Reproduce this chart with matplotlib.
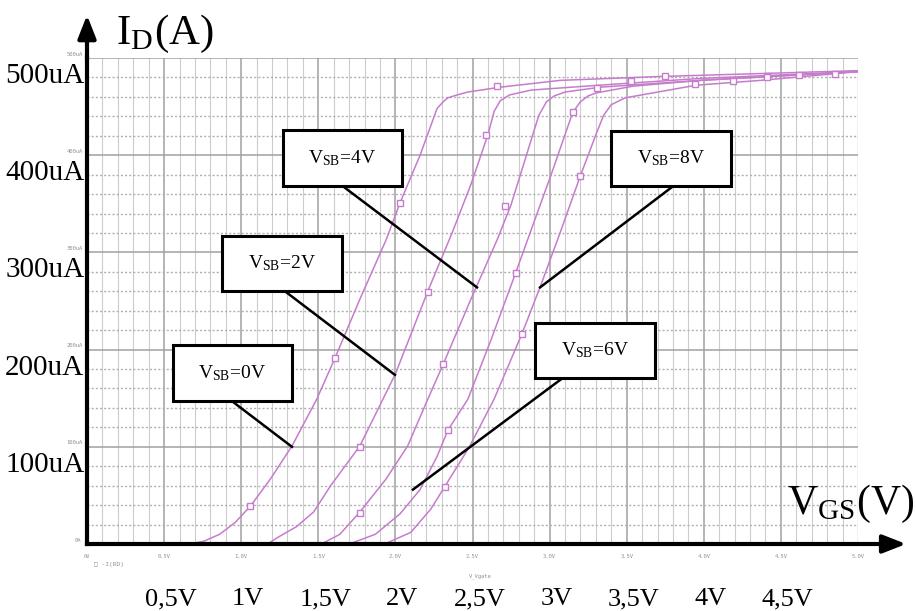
import matplotlib
matplotlib.use("Agg")
import matplotlib.pyplot as plt
from matplotlib.patches import Rectangle
import numpy as np

# Kennlinien I_D(V_GS) fuer verschiedene V_SB (Strom in uA)
vgs_0 = [0.0, 0.67, 0.76, 0.86, 0.96, 1.06, 1.19, 1.33, 1.49, 1.61, 1.77, 1.94, 2.03, 2.16, 2.27, 2.31, 2.34, 2.40, 2.47, 2.68, 3.07, 3.72, 4.37, 5.0]
id_0 = [0, 0, 3, 10, 22, 39, 67, 101, 149, 192, 252, 313, 351, 400, 448, 455, 459, 462, 465, 470, 477, 481, 484, 487]

vgs_2 = [0.0, 1.17, 1.25, 1.36, 1.47, 1.58, 1.77, 2.00, 2.21, 2.37, 2.49, 2.60, 2.64, 2.68, 2.74, 2.88, 3.32, 3.98, 5.0]
id_2 = [0, 0, 8, 18, 33, 60, 101, 175, 260, 321, 370, 421, 445, 456, 462, 467, 472, 479, 486]

vgs_4 = [0.0, 1.52, 1.64, 1.77, 1.94, 2.08, 2.21, 2.31, 2.49, 2.66, 2.75, 2.84, 2.93, 2.98, 3.03, 3.10, 3.33, 3.98, 5.0]
id_4 = [0, 0, 10, 33, 67, 101, 149, 185, 252, 313, 349, 395, 441, 455, 461, 465, 470, 477, 486]

vgs_6 = [0.0, 1.70, 1.87, 2.03, 2.16, 2.27, 2.34, 2.47, 2.62, 2.78, 2.88, 3.01, 3.15, 3.20, 3.25, 3.30, 3.54, 3.98, 5.0]
id_6 = [0, 0, 10, 31, 56, 90, 117, 149, 210, 279, 323, 380, 444, 455, 461, 464, 471, 477, 486]

vgs_8 = [0.0, 1.93, 2.10, 2.23, 2.32, 2.48, 2.64, 2.82, 2.94, 3.07, 3.20, 3.30, 3.35, 3.40, 3.49, 3.95, 4.37, 5.0]
id_8 = [0, 0, 12, 36, 59, 100, 149, 216, 265, 321, 379, 421, 441, 452, 459, 472, 477, 486]

# Marker der Simulation (PSpice-Symbole)
mk_v_0 = [1.06, 1.61, 2.03, 2.66, 3.75]
mk_i_0 = [39, 191, 351, 471, 481]
mk_v_2 = [1.77, 2.21, 2.59, 3.31, 4.41]
mk_i_2 = [100, 259, 421, 469, 481]
mk_v_4 = [1.77, 2.31, 2.71, 3.53, 4.62]
mk_i_4 = [32, 185, 348, 476, 483]
mk_v_6 = [2.34, 2.78, 3.15, 3.94, 4.85]
mk_i_6 = [117, 279, 444, 473, 484]
mk_v_8 = [2.32, 2.82, 3.20, 4.19, 4.41]
mk_i_8 = [59, 216, 379, 476, 480]

vsb_labels = ["0V", "2V", "4V", "6V", "8V"]

y_ticks = [100, 200, 300, 400, 500]
y_labels = ["100uA", "200uA", "300uA", "400uA", "500uA"]
y_small = ["100uA", "200uA", "300uA", "400uA", "500uA"]
x_ticks = [0.5, 1.0, 1.5, 2.0, 2.5, 3.0, 3.5, 4.0, 4.5]
x_labels = ["0,5V", "1V", "1,5V", "2V", "2,5V", "3V", "3,5V", "4V", "4,5V"]
x_small_ticks = [0, 0.5, 1.0, 1.5, 2.0, 2.5, 3.0, 3.5, 4.0, 4.5, 5.0]
x_small = ["0V", "0.5V", "1.0V", "1.5V", "2.0V", "2.5V", "3.0V", "3.5V", "4.0V", "4.5V", "5.0V"]

plt.rcParams['mathtext.fontset'] = 'stix'
serif = 'Liberation Serif'
curve_col = '#c67ccc'

fig = plt.figure(figsize=(9.16, 6.11), dpi=100)
ax = fig.add_axes([87/916, 67/611, 771/916, 486/611])
ax.set_xlim(0, 5.0)
ax.set_ylim(0, 500)

# Raster wie im PSpice-Plot
for v in np.arange(0.1, 5.0, 0.1):
    major = abs(v * 2 - round(v * 2)) < 1e-6
    ax.axvline(v, color='#a0a0a0' if major else '#cccccc', lw=1.1 if major else 0.8, zorder=1)
for i in np.arange(20, 500.1, 20):
    if int(round(i)) % 100 == 0:
        ax.axhline(i, color='#a0a0a0', lw=1.1, zorder=1)
    else:
        ax.axhline(i, color='#b0b0b0', lw=1.0, ls=(0, (1.5, 1.5)), zorder=1)
ax.axvline(5.0, color='#c0c0c0', lw=1, zorder=1)

curves = [(vgs_0, id_0, mk_v_0, mk_i_0), (vgs_2, id_2, mk_v_2, mk_i_2),
          (vgs_4, id_4, mk_v_4, mk_i_4), (vgs_6, id_6, mk_v_6, mk_i_6),
          (vgs_8, id_8, mk_v_8, mk_i_8)]
for vg, idd, mv, mi in curves:
    ax.plot(vg, idd, color=curve_col, lw=1.1, zorder=3)
    ax.plot(mv, mi, ls='none', marker='s', ms=4, mfc='white', mec=curve_col, mew=1, zorder=4)

for s in ['top', 'right']:
    ax.spines[s].set_visible(False)
for s in ['left', 'bottom']:
    ax.spines[s].set_linewidth(3)
    ax.spines[s].set_color('black')
    ax.spines[s].set_zorder(6)
ax.set_xticks([])
ax.set_yticks([])

# Pfeile der Achsen
ax.annotate('', xy=(0, 547), xytext=(0, 495), xycoords='data',
            arrowprops=dict(arrowstyle='-|>,head_length=1.4,head_width=0.55', color='black', lw=3),
            annotation_clip=False)
ax.annotate('', xy=(5.33, 0), xytext=(5.0, 0), xycoords='data',
            arrowprops=dict(arrowstyle='-|>,head_length=1.4,head_width=0.55', color='black', lw=3),
            annotation_clip=False)

# Achsentitel
ax.text(0.19, 546, r'I$_{\mathregular{D}}$(A)', fontsize=31, family=serif, ha='left', va='top')
ax.text(5.37, 41, r'V$_{\mathregular{GS}}$(V)', fontsize=30, family=serif, ha='right', va='center')

# grosse Beschriftungen
for val, lab in zip(y_ticks, y_labels):
    ax.annotate(lab, xy=(0, val), xycoords=('axes fraction', 'data'), xytext=(-2, -13),
                textcoords='offset points', ha='right', va='center', fontsize=21, family=serif)
for val, lab in zip(y_ticks, y_small):
    ax.annotate(lab, xy=(0, val), xycoords=('axes fraction', 'data'), xytext=(-3, 1),
                textcoords='offset points', ha='right', va='bottom', fontsize=4, color='#909090',
                family='DejaVu Sans Mono')
ax.annotate('0A', xy=(0, 0), xycoords=('axes fraction', 'data'), xytext=(-4, 1),
            textcoords='offset points', ha='right', va='bottom', fontsize=4, color='#909090',
            family='DejaVu Sans Mono')
for val, lab in zip(x_ticks, x_labels):
    ax.annotate(lab, xy=(val, 0), xycoords=('data', 'axes fraction'), xytext=(5, -44),
                textcoords='offset points', ha='center', va='baseline', fontsize=19, family=serif)
for val, lab in zip(x_small_ticks, x_small):
    ax.annotate(lab, xy=(val, 0), xycoords=('data', 'axes fraction'), xytext=(0, -9),
                textcoords='offset points', ha='center', va='center', fontsize=4, color='#909090',
                family='DejaVu Sans Mono')
ax.annotate('\u25a1 -I(RD)', xy=(0, 0), xycoords='axes fraction', xytext=(5, -15),
            textcoords='offset points', ha='left', va='center', fontsize=4.5, color='#909090',
            family='DejaVu Sans Mono')
ax.annotate('V_Vgate', xy=(2.55, 0), xycoords=('data', 'axes fraction'), xytext=(0, -23),
            textcoords='offset points', ha='center', va='center', fontsize=4, color='#909090',
            family='DejaVu Sans Mono')

# Beschriftungskaesten mit Hinweislinien: (x0, x1, y0, y1), Linienanfang, Linienende
boxes = [((0.558, 1.329, 147, 205), (0.940, 147), (1.329, 100)),
         ((0.875, 1.654, 260, 317), (1.284, 260), (1.997, 174)),
         ((1.271, 2.043, 368, 426), (1.660, 368), (2.529, 264)),
         ((2.905, 3.683, 171, 227), (3.087, 171), (2.114, 56)),
         ((3.398, 4.176, 368, 425), (3.800, 368), (2.938, 264))]
for lab, (bx, p0, p1) in zip(vsb_labels, boxes):
    x0, x1, y0, y1 = bx
    ax.plot([p0[0], p1[0]], [p0[1], p1[1]], color='black', lw=1.8, zorder=7)
    ax.add_patch(Rectangle((x0, y0), x1 - x0, y1 - y0, facecolor='white', edgecolor='black',
                           lw=2.2, zorder=8))
    ax.text((x0 + x1) / 2, (y0 + y1) / 2, r'V$_{\mathregular{SB}}$=' + lab, fontsize=14,
            family=serif, ha='center', va='center', zorder=9)

fig.savefig('out.png', dpi=100)
